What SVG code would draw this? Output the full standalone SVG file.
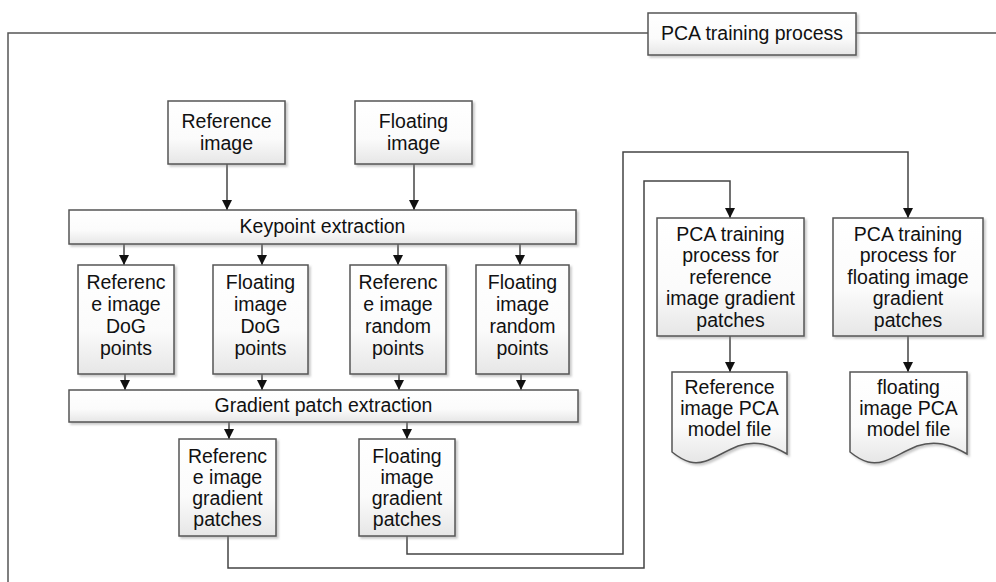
<svg xmlns="http://www.w3.org/2000/svg" width="996" height="582" viewBox="0 0 996 582">
<defs>
<linearGradient id="g" x1="0" y1="0" x2="0" y2="1">
<stop offset="0" stop-color="#ffffff"/>
<stop offset="0.6" stop-color="#fbfbfb"/>
<stop offset="1" stop-color="#e6e6e6"/>
</linearGradient>
<filter id="sh" x="-10%" y="-10%" width="130%" height="130%">
<feDropShadow dx="2" dy="2" stdDeviation="1.2" flood-color="#888" flood-opacity="0.45"/>
</filter>
<marker id="ah" viewBox="0 0 10 10" refX="10" refY="5" markerWidth="10" markerHeight="10" markerUnits="userSpaceOnUse" orient="auto">
<path d="M0,0 L10,5 L0,10 Z" fill="#111"/>
</marker>
<style>
.box{fill:url(#g);stroke:#555;stroke-width:1.5;filter:url(#sh)}
.t{font-family:"Liberation Sans",Arial,sans-serif;font-size:19.5px;fill:#111;text-anchor:middle}
.c{fill:none;stroke:#555;stroke-width:1.5}
.a{fill:none;stroke:#444;stroke-width:1.5;marker-end:url(#ah)}
</style>
</defs>
<rect width="996" height="582" fill="#fff"/>

<g id="frame">
<path class="c" d="M8,582 V33 H648 M856,33 H996"/>
</g>

<g id="connectors">
<path class="a" d="M227,164 V210"/>
<path class="a" d="M414,164 V210"/>
<path class="a" d="M124,244 V265"/>
<path class="a" d="M262,244 V265"/>
<path class="a" d="M398,244 V265"/>
<path class="a" d="M520,244 V265"/>
<path class="a" d="M125,374 V390"/>
<path class="a" d="M262,374 V390"/>
<path class="a" d="M399,374 V390"/>
<path class="a" d="M521,374 V390"/>
<path class="a" d="M229,422 V439"/>
<path class="a" d="M407,422 V439"/>
<path class="a" d="M228,536 V568 H644 V181 H730 V218"/>
<path class="a" d="M407,536 V554 H623 V152 H908 V218"/>
<path class="a" d="M730,336 V372"/>
<path class="a" d="M908,336 V372"/>
</g>

<g id="pca-title">
<rect class="box" x="648" y="13" width="208" height="42"/>
<text class="t" x="752" y="40">PCA training process</text>
</g>

<g id="ref-image">
<rect class="box" x="168" y="101" width="117" height="63"/>
<text class="t" x="226.5" y="128">Reference</text>
<text class="t" x="226.5" y="150">image</text>
</g>

<g id="float-image">
<rect class="box" x="355" y="101" width="117" height="63"/>
<text class="t" x="413.5" y="128">Floating</text>
<text class="t" x="413.5" y="150">image</text>
</g>

<g id="keypoint">
<rect class="box" x="69" y="210" width="507" height="34"/>
<text class="t" x="322.5" y="233">Keypoint extraction</text>
</g>

<g id="ref-dog">
<rect class="box" x="78" y="265" width="96" height="109"/>
<text class="t" x="126" y="289">Referenc</text>
<text class="t" x="126" y="311">e image</text>
<text class="t" x="126" y="333">DoG</text>
<text class="t" x="126" y="355">points</text>
</g>

<g id="float-dog">
<rect class="box" x="213" y="265" width="95" height="109"/>
<text class="t" x="260.5" y="289">Floating</text>
<text class="t" x="260.5" y="311">image</text>
<text class="t" x="260.5" y="333">DoG</text>
<text class="t" x="260.5" y="355">points</text>
</g>

<g id="ref-random">
<rect class="box" x="350" y="265" width="96" height="109"/>
<text class="t" x="398" y="289">Referenc</text>
<text class="t" x="398" y="311">e image</text>
<text class="t" x="398" y="333">random</text>
<text class="t" x="398" y="355">points</text>
</g>

<g id="float-random">
<rect class="box" x="476" y="265" width="93" height="109"/>
<text class="t" x="522.5" y="289">Floating</text>
<text class="t" x="522.5" y="311">image</text>
<text class="t" x="522.5" y="333">random</text>
<text class="t" x="522.5" y="355">points</text>
</g>

<g id="gradient">
<rect class="box" x="69" y="390" width="509" height="32"/>
<text class="t" x="323.5" y="412">Gradient patch extraction</text>
</g>

<g id="ref-patches">
<rect class="box" x="179" y="439" width="97" height="97"/>
<text class="t" x="227.5" y="463">Referenc</text>
<text class="t" x="227.5" y="484">e image</text>
<text class="t" x="227.5" y="505">gradient</text>
<text class="t" x="227.5" y="526">patches</text>
</g>

<g id="float-patches">
<rect class="box" x="359" y="439" width="96" height="97"/>
<text class="t" x="407" y="463">Floating</text>
<text class="t" x="407" y="484">image</text>
<text class="t" x="407" y="505">gradient</text>
<text class="t" x="407" y="526">patches</text>
</g>

<g id="pca-ref">
<rect class="box" x="657" y="218" width="147" height="118"/>
<text class="t" x="730.5" y="241">PCA training</text>
<text class="t" x="730.5" y="262">process for</text>
<text class="t" x="730.5" y="284">reference</text>
<text class="t" x="730.5" y="305">image gradient</text>
<text class="t" x="730.5" y="327">patches</text>
</g>

<g id="pca-float">
<rect class="box" x="833" y="218" width="150" height="118"/>
<text class="t" x="908" y="241">PCA training</text>
<text class="t" x="908" y="262">process for</text>
<text class="t" x="908" y="284">floating image</text>
<text class="t" x="908" y="305">gradient</text>
<text class="t" x="908" y="327">patches</text>
</g>

<g id="ref-model">
<path class="box" d="M672,372 H787 V454 C770,444 755,440 738,446 C718,454 705,466 690,462 C682,460 677,456 672,452 Z"/>
<text class="t" x="729.5" y="394">Reference</text>
<text class="t" x="729.5" y="415">image PCA</text>
<text class="t" x="729.5" y="436">model file</text>
</g>

<g id="float-model">
<path class="box" d="M850,372 H967 V454 C950,444 935,440 917,446 C897,454 884,466 868,462 C860,460 855,456 850,452 Z"/>
<text class="t" x="908.5" y="394">floating</text>
<text class="t" x="908.5" y="415">image PCA</text>
<text class="t" x="908.5" y="436">model file</text>
</g>
</svg>
